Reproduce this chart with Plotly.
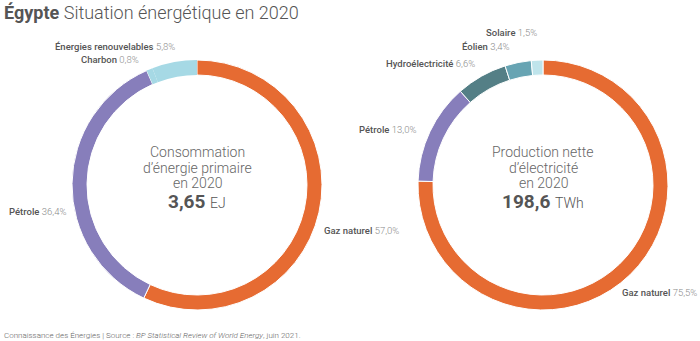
import plotly.graph_objects as go

# Data
left_labels = ["Gaz naturel", "Pétrole", "Charbon", "Énergies renouvelables"]
left_values = [57.0, 36.4, 0.8, 5.8]
left_colors = ["#E66B32", "#877EBB", "#A6D9E5", "#A6D9E5"]
left_line_w = [1, 1, 0, 0]

right_labels = ["Gaz naturel", "Pétrole", "Hydroélectricité", "Éolien", "Solaire"]
right_values = [75.5, 13.0, 6.6, 3.4, 1.5]
right_colors = ["#E66B32", "#877EBB", "#547F86", "#67A4B3", "#BFE4EB"]

left_total = "3,65"
left_unit = "EJ"
right_total = "198,6"
right_unit = "TWh"

FONT = "Roboto"
W, H = 700, 341

fig = go.Figure()

def px(x):
    return x / W

def py(y):
    return 1 - y / H

fig.add_trace(go.Pie(
    labels=left_labels, values=left_values, sort=False, direction="clockwise",
    rotation=0, hole=0.88, textinfo="none", hoverinfo="skip",
    marker=dict(colors=left_colors, line=dict(color="white", width=left_line_w)),
    domain=dict(x=[px(72), px(322)], y=[py(310), py(60)]),
    showlegend=False,
))
fig.add_trace(go.Pie(
    labels=right_labels, values=right_values, sort=False, direction="clockwise",
    rotation=0, hole=0.88, textinfo="none", hoverinfo="skip",
    marker=dict(colors=right_colors, line=dict(color="white", width=1)),
    domain=dict(x=[px(418), px(668)], y=[py(310), py(60)]),
    showlegend=False,
))

def fmt(v):
    return f"{v:.1f}".replace(".", ",") + "%"

def lab(name, val):
    return (f'<span style="font-weight:500">{name}</span> '
            f'<span style="font-weight:300;fill:#8a8a8a">{fmt(val)}</span>')

ann = []
def add(text, x, y, xanchor="left", size=9.5, color="#555555", weight=None):
    f = dict(family=FONT, size=size, color=color)
    if weight:
        f["weight"] = weight
    ann.append(dict(text=text, x=px(x), y=py(y), xref="paper", yref="paper",
                    xanchor=xanchor, yanchor="middle", showarrow=False, font=f))

# Left labels
add(lab(left_labels[3], left_values[3]), 177, 46, "right")
add(lab(left_labels[2], left_values[2]), 141, 59, "right")
add(lab(left_labels[1], left_values[1]), 7, 211, "left")
add(lab(left_labels[0], left_values[0]), 322, 231, "left")

# Right labels
add(lab(right_labels[4], right_values[4]), 539, 32, "right")
add(lab(right_labels[3], right_values[3]), 512, 46, "right")
add(lab(right_labels[2], right_values[2]), 477, 63, "right")
add(lab(right_labels[1], right_values[1]), 418, 129, "right")
add(lab(right_labels[0], right_values[0]), 699, 292, "right")

# Center texts
for cx, lines, total, unit in [
    (197, ["Consommation", "d’énergie primaire", "en 2020"], left_total, left_unit),
    (543, ["Production nette", "d’électricité", "en 2020"], right_total, right_unit),
]:
    for i, t in enumerate(lines):
        add(t, cx, 152 + i * 15.7, "center", size=14, color="#666666", weight=300)
    add(f'<b>{total}</b> <span style="font-weight:300;font-size:14px">{unit}</span>',
        cx, 201, "center", size=19, color="#555555")

# Title
add('<b>Égypte</b> <span style="font-weight:300">Situation énergétique en 2020</span>',
    2, 13, "left", size=18, color="#555555")

# Footer
add('Connaissance des Énergies | Source : <i>BP Statistical Review of World Energy</i>, juin 2021.',
    2, 335, "left", size=8, color="#666666", weight=300)

fig.update_layout(
    width=W, height=H, margin=dict(l=0, r=0, t=0, b=0),
    paper_bgcolor="white", plot_bgcolor="white",
    annotations=ann, font=dict(family=FONT),
)

fig.write_html("out.html")
